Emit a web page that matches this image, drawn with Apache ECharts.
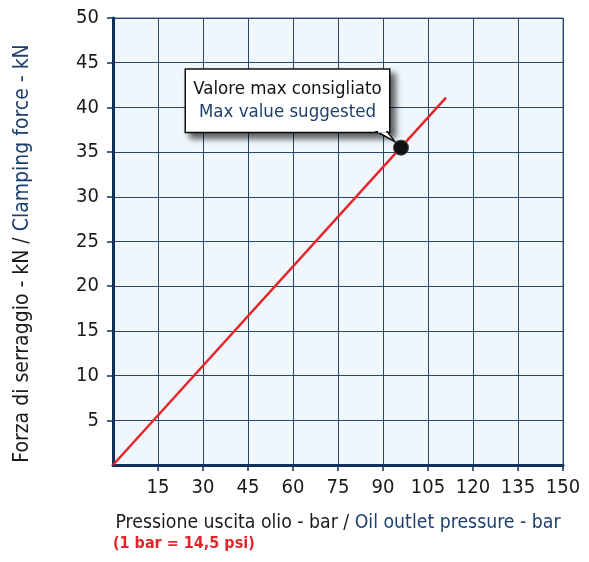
<!DOCTYPE html>
<html>
<head>
<meta charset="utf-8">
<script src="https://cdn.jsdelivr.net/npm/echarts@6/dist/echarts.min.js"></script>
<style>
  html, body { margin: 0; padding: 0; background: #fff; }
  #chart { width: 589px; height: 562px; }
</style>
</head>
<body>
<div id="chart"></div>
<script>
// valori
const xRange = [0, 150];
const yRange = [0, 50];
const forceLine = [[0, 0], [111, 41.1]];      // bar -> kN
const maxPoint = [[96, 35.5]];                // valore max consigliato
const calloutText = ['Valore max consigliato', 'Max value suggested'];
const xName = ['Pressione uscita olio - bar / ', 'Oil outlet pressure - bar'];
const yName = ['Forza di serraggio - kN / ', 'Clamping force - kN'];
const noteText = '(1 bar = 14,5 psi)';

const FONT = '"Liberation Sans Narrow", "DejaVu Sans Condensed", Arial, sans-serif';
const NAVY = '#10305a';
const BLUE_TXT = '#1d3f6e';

const chart = echarts.init(document.getElementById('chart'));

const option = {
  animation: false,
  textStyle: { fontFamily: FONT },
  grid: {
    left: 113, right: 26, top: 18, bottom: 97,
    show: true,
    backgroundColor: '#eff7fc',
    borderColor: '#4a6384',
    borderWidth: 1
  },
  xAxis: {
    type: 'value',
    min: xRange[0], max: xRange[1], interval: 15,
    name: '{a|' + xName[0] + '}{b|' + xName[1] + '}',
    nameLocation: 'middle',
    nameGap: 48,
    nameTextStyle: {
      rich: {
        a: { fontFamily: FONT, fontSize: 19.3, color: '#1a1a1a' },
        b: { fontFamily: FONT, fontSize: 19.3, color: BLUE_TXT }
      }
    },
    axisLine: { show: true, onZero: false, lineStyle: { color: NAVY, width: 3 } },
    axisTick: { show: true, length: 6, lineStyle: { color: NAVY, width: 1.5 } },
    axisLabel: { showMinLabel: false, margin: 13, fontFamily: FONT, fontSize: 20, color: '#1a1a1a' },
    splitLine: { show: true, lineStyle: { color: '#2b4568', width: 1 } }
  },
  yAxis: {
    type: 'value',
    min: yRange[0], max: yRange[1], interval: 5,
    name: '{a|' + yName[0] + '}{b|' + yName[1] + '}',
    nameLocation: 'middle',
    nameRotate: 90,
    nameGap: 80,
    nameTextStyle: {
      padding: [0, 24, 0, 0],
      rich: {
        a: { fontFamily: FONT, fontSize: 21, color: '#1a1a1a' },
        b: { fontFamily: FONT, fontSize: 21, color: BLUE_TXT }
      }
    },
    axisLine: { show: true, onZero: false, lineStyle: { color: NAVY, width: 3 } },
    axisTick: { show: true, length: 6, lineStyle: { color: NAVY, width: 1.5 } },
    axisLabel: { showMinLabel: false, margin: 14, fontFamily: FONT, fontSize: 20, color: '#1a1a1a' },
    splitLine: { show: true, lineStyle: { color: '#2b4568', width: 1 } }
  },
  series: [
    {
      type: 'line',
      data: forceLine,
      showSymbol: false,
      lineStyle: { color: '#e3262b', width: 2.5 },
      z: 3
    },
    {
      type: 'scatter',
      data: maxPoint,
      symbolSize: 15,
      itemStyle: { color: '#111', borderColor: '#444', borderWidth: 1, opacity: 1 },
      z: 5,
      label: {
        show: true,
        position: [-207, -70],
        align: 'left',
        verticalAlign: 'top',
        formatter: '{a|' + calloutText[0] + '}\n{b|' + calloutText[1] + '}',
        backgroundColor: '#fff',
        borderColor: '#111',
        borderWidth: 1.5,
        width: 181,
        padding: [8, 11, 8, 11],
        shadowColor: 'rgba(0,0,0,0.6)',
        shadowBlur: 6,
        shadowOffsetX: 5,
        shadowOffsetY: 5,
        rich: {
          a: { fontFamily: FONT, fontSize: 18.5, color: '#111', align: 'center', lineHeight: 23 },
          b: { fontFamily: FONT, fontSize: 18.5, color: BLUE_TXT, align: 'center', lineHeight: 23 }
        }
      }
    }
  ],
  graphic: [
    {
      type: 'text',
      left: 113,
      top: 536,
      style: {
        text: noteText,
        fill: '#e3262b',
        font: 'bold 16px ' + FONT
      }
    }
  ]
};

chart.setOption(option);

// coda del fumetto verso il punto
const p = chart.convertToPixel({ seriesIndex: 1 }, maxPoint[0]);
chart.setOption({
  graphic: [
    option.graphic[0],
    {
      type: 'polygon',
      z: 100,
      shape: { points: [[p[0] - 24, p[1] - 16], [p[0] - 14, p[1] - 16], [p[0] - 6, p[1] - 6]] },
      style: { fill: '#fff', stroke: '#111', lineWidth: 1.5 }
    },
    {
      type: 'rect',
      z: 101,
      shape: { x: p[0] - 23, y: p[1] - 18, width: 8, height: 3 },
      style: { fill: '#fff' }
    }
  ]
});

window.addEventListener('resize', function() {
  chart.resize();
});
</script>
</body>
</html>
